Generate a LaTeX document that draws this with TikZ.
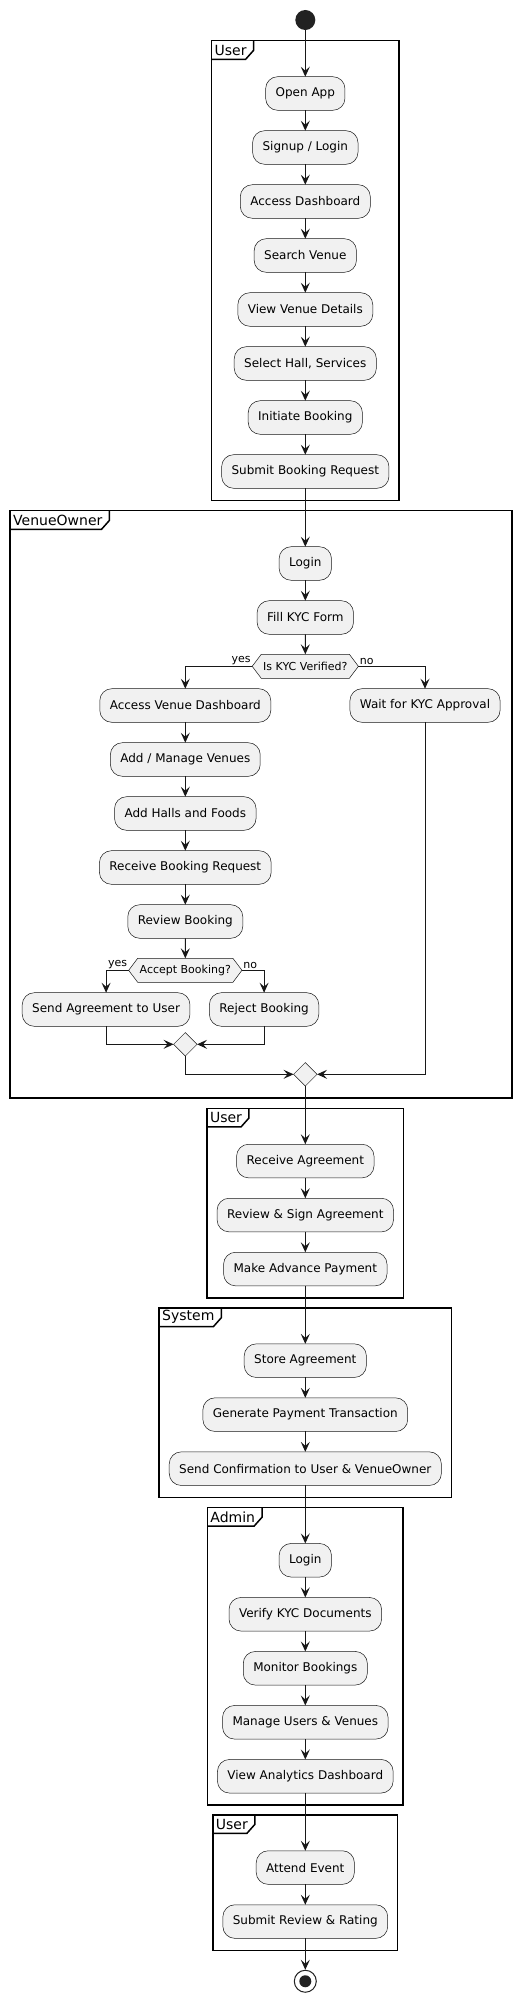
\documentclass[tikz,border=0pt]{standalone}
\usepackage{fontspec}
\setmainfont{DejaVu Sans}
\usetikzlibrary{shapes.geometric, shapes.symbols, arrows.meta, positioning, fit, calc}
\definecolor{boxfill}{HTML}{F1F1F1}
\definecolor{ink}{HTML}{181818}
\definecolor{dot}{HTML}{222222}

% frame title tab in the upper left corner of a partition
\newcommand{\frametab}[2]{%
  \node[tabtext, anchor=north west] (#1tab) at (#1.north west) {#2};
  \draw[tabline] ($(#1tab.north east)+(4,0)$) -- ($(#1tab.south east)+(4,-9)$) -- ($(#1tab.south east)+(-4,0)$) -- (#1tab.south west);
}

\begin{document}
\begin{tikzpicture}[
    x=1pt, y=-1pt,
    action/.style={rectangle, rounded corners=12pt, draw=ink, line width=0.5pt, fill=boxfill, minimum height=33.6pt, inner xsep=10pt, inner ysep=0pt, outer sep=0pt, font=\fontsize{12}{14}\selectfont},
    decision/.style={signal, signal to=east and west, signal pointer angle=106, draw=ink, line width=0.5pt, fill=boxfill, minimum height=24pt, inner xsep=2pt, inner ysep=0pt, outer sep=0pt, font=\fontsize{11}{13}\selectfont},
    merge/.style={diamond, draw=ink, line width=0.5pt, fill=boxfill, minimum width=23.5pt, minimum height=23.5pt, inner sep=0pt, outer sep=0pt},
    arrow/.style={-{Stealth[length=10pt, width=9pt, inset=4pt]}, draw=ink, line width=1pt},
    guard/.style={font=\fontsize{11}{13}\selectfont, inner sep=1pt},
    frame/.style={draw=black, line width=1.5pt, inner xsep=10pt, inner ysep=12pt, outer sep=0pt},
    tabtext/.style={font=\fontsize{14}{16}\selectfont, inner xsep=3pt, inner ysep=0pt, minimum height=18.7pt, outer sep=0pt},
    tabline/.style={draw=black, line width=1.5pt},
    initdot/.style={circle, fill=dot, minimum size=20pt, inner sep=0pt},
    finaldot/.style={circle, draw=dot, line width=1pt, fill=white, minimum size=22pt, inner sep=0pt,
        path picture={\fill[dot] (path picture bounding box.center) circle (6pt);}},
    node distance=20.4pt
]
    \path[fill=white, use as bounding box] (0,0) rectangle (525,2004);

    % User
    \node[initdot] (init) at (305.3,20) {};
    \node[action] (open) at (305.3,93.5) {Open App};
    \node[action, below=of open] (signup) {Signup / Login};
    \node[action, below=of signup] (dash) {Access Dashboard};
    \node[action, below=of dash] (search) {Search Venue};
    \node[action, below=of search] (details) {View Venue Details};
    \node[action, below=of details] (select) {Select Hall, Services};
    \node[action, below=of select] (initiate) {Initiate Booking};
    \node[action, below=of initiate] (submit) {Submit Booking Request};

    % VenueOwner
    \node[action, below=58.4pt of submit] (vlogin) {Login};
    \node[action, below=of vlogin] (kycform) {Fill KYC Form};
    \node[decision, below=20pt of kycform] (kyc) {Is KYC Verified?};
    \node[action, below=10.4pt of kyc, xshift=-120pt] (access) {Access Venue Dashboard};
    \node[action, below=10.4pt of kyc, xshift=119.7pt] (wait) {Wait for KYC Approval};
    \node[action, below=of access] (venues) {Add / Manage Venues};
    \node[action, below=of venues] (halls) {Add Halls and Foods};
    \node[action, below=of halls] (request) {Receive Booking Request};
    \node[action, below=of request] (review) {Review Booking};
    \node[decision, below=20pt of review] (accept) {Accept Booking?};
    \node[action, below=10.4pt of accept, xshift=-79.2pt] (sendagr) {Send Agreement to User};
    \node[action, below=10.4pt of accept, xshift=78.8pt] (reject) {Reject Booking};
    \node[merge] (mergeA) at (accept |- 0,1044.3) {};
    \node[merge] (mergeB) at (kyc |- 0,1074.3) {};

    % User
    \node[action, below=58.2pt of mergeB] (recvagr) {Receive Agreement};
    \node[action, below=of recvagr] (sign) {Review \& Sign Agreement};
    \node[action, below=of sign] (pay) {Make Advance Payment};

    % System
    \node[action, below=58pt of pay] (store) {Store Agreement};
    \node[action, below=of store] (txn) {Generate Payment Transaction};
    \node[action, below=of txn] (confirm) {Send Confirmation to User \& VenueOwner};

    % Admin
    \node[action, below=58pt of confirm] (alogin) {Login};
    \node[action, below=of alogin] (verify) {Verify KYC Documents};
    \node[action, below=of verify] (monitor) {Monitor Bookings};
    \node[action, below=of monitor] (manage) {Manage Users \& Venues};
    \node[action, below=of manage] (analytics) {View Analytics Dashboard};

    % User
    \node[action, below=57.7pt of analytics] (attend) {Attend Event};
    \node[action, below=of attend] (rating) {Submit Review \& Rating};
    \node[finaldot, below=31.4pt of rating] (final) {};

    % Partitions
    \node[frame, fit={(open) (submit) ($(open.north)+(0,-24)$)}] (userA) {};
    \node[frame, inner xsep=12pt, fit={(vlogin) (sendagr) (wait) (mergeB) ($(vlogin.north)+(0,-24)$)}] (owner) {};
    \node[frame, fit={(recvagr) (sign) (pay) ($(recvagr.north)+(0,-24)$)}] (userB) {};
    \node[frame, fit={(store) (txn) (confirm) ($(store.north)+(0,-24)$)}] (system) {};
    \node[frame, fit={(alogin) (analytics) ($(alogin.north)+(0,-24)$)}] (admin) {};
    \node[frame, fit={(attend) (rating) ($(attend.north)+(0,-24)$)}] (userC) {};
    \frametab{userA}{User}
    \frametab{owner}{VenueOwner}
    \frametab{userB}{User}
    \frametab{system}{System}
    \frametab{admin}{Admin}
    \frametab{userC}{User}

    % Flow
    \draw[arrow] (init) -- (open);
    \draw[arrow] (open) -- (signup);
    \draw[arrow] (signup) -- (dash);
    \draw[arrow] (dash) -- (search);
    \draw[arrow] (search) -- (details);
    \draw[arrow] (details) -- (select);
    \draw[arrow] (select) -- (initiate);
    \draw[arrow] (initiate) -- (submit);
    \draw[arrow] (submit) -- (vlogin);
    \draw[arrow] (vlogin) -- (kycform);
    \draw[arrow] (kycform) -- (kyc);
    \draw[arrow] (kyc.west) node[guard, anchor=south east] (kycyes) {yes} -| (access);
    \draw[arrow] (kyc.east) node[guard, anchor=south west] (kycno) {no} -| (wait);
    \draw[arrow] (access) -- (venues);
    \draw[arrow] (venues) -- (halls);
    \draw[arrow] (halls) -- (request);
    \draw[arrow] (request) -- (review);
    \draw[arrow] (review) -- (accept);
    \draw[arrow] (accept.west) node[guard, anchor=south east] (acceptyes) {yes} -| (sendagr);
    \draw[arrow] (accept.east) node[guard, anchor=south west] (acceptno) {no} -| (reject);
    \draw[arrow] (sendagr) |- (mergeA);
    \draw[arrow] (reject) |- (mergeA);
    \draw[arrow] (mergeA) |- (mergeB);
    \draw[arrow] (wait) |- (mergeB);
    \draw[arrow] (mergeB) -- (recvagr);
    \draw[arrow] (recvagr) -- (sign);
    \draw[arrow] (sign) -- (pay);
    \draw[arrow] (pay) -- (store);
    \draw[arrow] (store) -- (txn);
    \draw[arrow] (txn) -- (confirm);
    \draw[arrow] (confirm) -- (alogin);
    \draw[arrow] (alogin) -- (verify);
    \draw[arrow] (verify) -- (monitor);
    \draw[arrow] (monitor) -- (manage);
    \draw[arrow] (manage) -- (analytics);
    \draw[arrow] (analytics) -- (attend);
    \draw[arrow] (attend) -- (rating);
    \draw[arrow] (rating) -- (final);

\end{tikzpicture}
\end{document}
